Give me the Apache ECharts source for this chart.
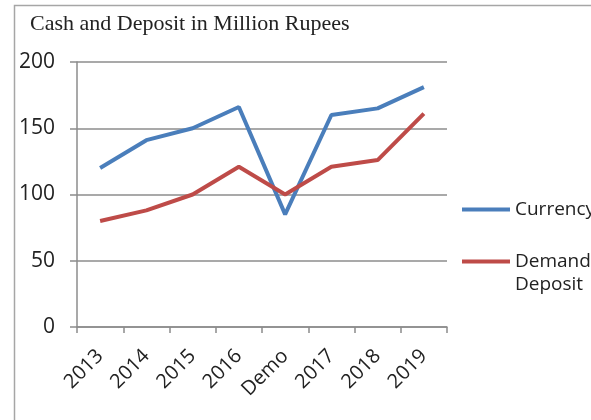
<!DOCTYPE html>
<html>
<head>
<meta charset="utf-8">
<script src="https://cdn.jsdelivr.net/npm/echarts@6/dist/echarts.min.js"></script>
<style>html,body{margin:0;padding:0;background:#fff;overflow:hidden;width:591px;height:420px;}#c{width:630px;height:420px;}</style>
</head>
<body>
<div id="c"></div>
<script>
const categories = ['2013','2014','2015','2016','Demo','2017','2018','2019'];
const currency = [120, 141, 150, 166, 85, 160, 165, 181];
const demandDeposit = [80, 88, 100, 121, 100, 121, 126, 161];
const yTicks = [0, 50, 100, 150, 200];
const titleText = 'Cash and Deposit in Million Rupees';

const chart = echarts.init(document.getElementById('c'), null, {renderer: 'canvas'});
const gray = '#8c8c8c';
chart.setOption({
  animation: false,
  backgroundColor: '#fff',
  title: {
    text: titleText, left: 25, top: 8,
    textStyle: {fontFamily: 'Liberation Serif', fontSize: 22, fontWeight: 'normal', color: '#222'}
  },
  graphic: [{
    type: 'polyline', shape: {points: [[14.5, 420], [14.5, 5.5], [630, 5.5]]},
    style: {fill: null, stroke: '#a6a6a6', lineWidth: 1.5}, silent: true
  }],
  grid: {left: 77, right: 183, top: 62, bottom: 93},
  legend: [{
    data: ['Currency'], orient: 'vertical', left: 457, top: 195,
    icon: 'rect', itemWidth: 48, itemHeight: 4, itemGap: 2,
    textStyle: {fontFamily: 'Open Sans', fontSize: 19, color: '#222'}
  }, {
    data: ['Demand Deposit'], orient: 'vertical', left: 457, top: 222,
    icon: 'rect', itemWidth: 48, itemHeight: 4,
    formatter: n => ' \n' + n.replace(' ', '\n'),
    textStyle: {fontFamily: 'Open Sans', fontSize: 19, lineHeight: 23, color: '#222'}
  }],
  xAxis: {
    type: 'category', data: categories, boundaryGap: true,
    axisLine: {lineStyle: {color: gray, width: 1.5}},
    axisTick: {show: true, length: 6, alignWithLabel: false, lineStyle: {color: gray, width: 1.5}},
    axisLabel: {rotate: 45, margin: 26, fontFamily: 'Open Sans', fontSize: 20, color: '#222', interval: 0}
  },
  yAxis: {
    type: 'value', min: yTicks[0], max: yTicks[yTicks.length-1], interval: 50,
    axisLine: {show: true, lineStyle: {color: gray, width: 1.5}},
    axisTick: {show: true, length: 7, lineStyle: {color: gray, width: 1.5}},
    splitLine: {lineStyle: {color: gray, width: 1.5}},
    axisLabel: {margin: 22, fontFamily: 'Open Sans', fontSize: 21, color: '#222'}
  },
  series: [{
    name: 'Currency', type: 'line', data: currency, symbol: 'none',
    lineStyle: {color: '#4a7ebb', width: 4}, itemStyle: {color: '#4a7ebb'}
  }, {
    name: 'Demand Deposit', type: 'line', data: demandDeposit, symbol: 'none',
    lineStyle: {color: '#be4b48', width: 4}, itemStyle: {color: '#be4b48'}
  }]
});
</script>
</body>
</html>
